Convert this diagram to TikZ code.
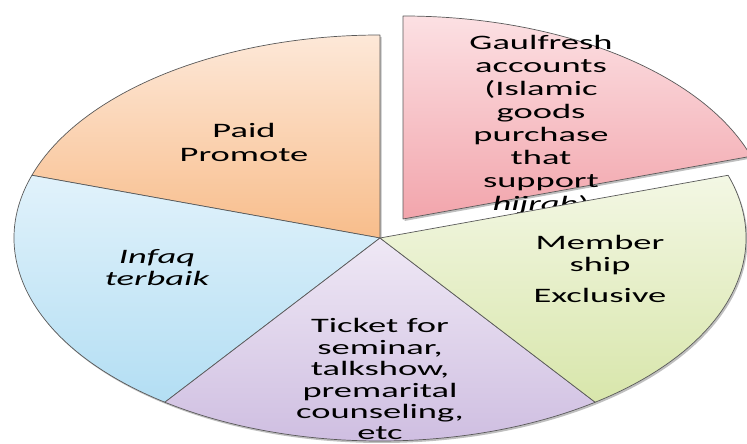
\documentclass[tikz,border=0pt]{standalone}
\usepackage{fontspec}
\newfontfamily\piefont[FakeStretch=1.78]{Carlito}

\definecolor{pinkT}{HTML}{FCE0E3}
\definecolor{pinkB}{HTML}{F2A5AC}
\definecolor{orangeT}{HTML}{FDE8D8}
\definecolor{orangeB}{HTML}{F8BD8B}
\definecolor{blueT}{HTML}{E1F2FB}
\definecolor{blueB}{HTML}{B3DEF3}
\definecolor{lilacT}{HTML}{EFE8F5}
\definecolor{lilacB}{HTML}{CDBCE0}
\definecolor{greenT}{HTML}{F3F7E4}
\definecolor{greenB}{HTML}{D8E6AB}

\begin{document}
\begin{tikzpicture}[x=1pt,y=1pt,
		font=\piefont\fontsize{20.5}{22}\selectfont,
		slice/.style={draw=gray!70!black, line width=0.7pt, line join=round},
		slicetext/.style={align=center, inner sep=0pt, anchor=base},
	]
	\def\cx{380}
	\def\cy{206}
	\def\rx{366}
	\def\ry{203}
	\useasboundingbox (0,0) rectangle (747,444);
	\clip (0,0) rectangle (747,444);

	% exploded slice
	\begin{scope}[shift={(23,19)}]
		\fill[black, opacity=0.25] (\cx+1.5,\cy-2) -- ++({\rx*cos(18)},{\ry*sin(18)})
			arc[start angle=18, delta angle=72, x radius=\rx, y radius=\ry] -- cycle;
		\draw[slice, top color=pinkT, bottom color=pinkB] (\cx,\cy) -- ++({\rx*cos(18)},{\ry*sin(18)})
			arc[start angle=18, delta angle=72, x radius=\rx, y radius=\ry] -- cycle;
	\end{scope}
	\node[slicetext, font=\piefont\fontsize{20.5}{23}\selectfont] (gaul) at (541,233)
		{Gaulfresh\\accounts\\(Islamic\\goods\\purchase\\that\\support\\\textit{hijrah})};

	% shadow of the rest
	\fill[black, opacity=0.25] (\cx+1.5,\cy-2) -- ++({\rx*cos(90)},{\ry*sin(90)})
		arc[start angle=90, delta angle=288, x radius=\rx, y radius=\ry] -- cycle;

	% slices
	\foreach \a/\ctop/\cbot in {90/orangeT/orangeB, 162/blueT/blueB, 234/lilacT/lilacB, 306/greenT/greenB}
		\draw[slice, top color=\ctop, bottom color=\cbot] (\cx,\cy) -- ++({\rx*cos(\a)},{\ry*sin(\a)})
			arc[start angle=\a, delta angle=72, x radius=\rx, y radius=\ry] -- cycle;

	% labels
	\node[slicetext, font=\piefont\fontsize{20.5}{24}\selectfont] (paid) at (244,282) {Paid\\Promote};
	\node[slicetext, font=\piefont\fontsize{20.5}{22}\selectfont\itshape] (infaq) at (157,158) {Infaq\\terbaik};
	\node[slicetext, font=\piefont\fontsize{20.5}{21.4}\selectfont] (ticket) at (380,4)
		{Ticket for\\seminar,\\talkshow,\\premarital\\counseling,\\etc};
	\node[slicetext] (member) at (600,141) {Member\\ship\\[9pt]Exclusive};
\end{tikzpicture}
\end{document}
